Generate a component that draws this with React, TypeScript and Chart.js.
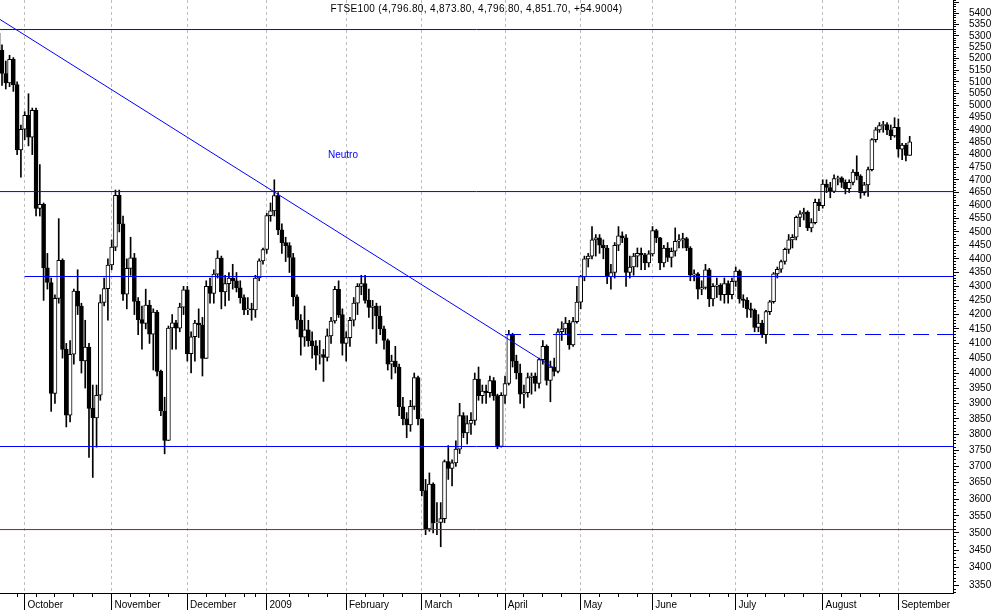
import React, { useEffect, useRef } from 'react';
import { Chart, registerables } from 'chart.js';

Chart.register(...registerables);

const TITLE = 'FTSE100 (4,796.80, 4,873.80, 4,796.80, 4,851.70, +54.9004)';
const NOTE = 'Neutro';

// Daily candles, 22 Sep 2008 .. 4 Sep 2009 (index = trading day)
const opens = [
  5311, 5236, 5136, 5095.6, 5197, 5088.5, 4818.8,
  4902.5, 4959.6, 4870.3, 4980.3, 4589.2, 4605.2, 4366.7, 4313.8, 3932.1, 4256.9, 4394.2, 4079.6, 3861.4, 4063, 4282.7, 4229.7, 4040.9, 4087.8, 3883.4, 3852.6, 3926.4, 4242.5, 4291.7,
  4377.3, 4443.3, 4639.5, 4530.7, 4272.4, 4364.9, 4403.9, 4246.7, 4182, 4169.2, 4233, 4132.2, 4208.5, 4005.7, 3875, 3781, 4153, 4171.3, 4152.7, 4226.1,
  4288, 4065.5, 4122.8, 4170, 4163.6, 4049.4, 4300.1, 4274.7, 4344, 4403, 4280.5, 4310, 4330, 4320, 4295, 4260, 4216.6, 4220, 4216, 4330, 4392.7,
  4434.2, 4561.8, 4579.6, 4638.9, 4507.5, 4460, 4448.5, 4405, 4263, 4180.6, 4121.8, 4147, 4108.5, 4091.4, 4059.9, 4062, 4052.5, 4126, 4177.6, 4289.5, 4200,
  4100, 4120, 4180, 4240, 4300, 4310, 4250, 4225, 4230, 4195, 4150, 4110, 4030, 4040, 4020, 3889, 3850, 3830, 3890, 3985,
  3850, 3625.8, 3512.1, 3645.9, 3529.9, 3530.7, 3542.4, 3715.2, 3693.8, 3711.1, 3753.7, 3860, 3805, 3835, 3845, 3980, 3925, 3940, 3935, 3975, 3925, 3762,
  3926, 3965, 4130, 4040, 4000, 3930, 3935, 3985, 3990, 3965, 4045, 4090, 3975, 4020, 4005, 4140, 4150, 4170, 4095, 4175,
  4243.7, 4335, 4400, 4410, 4470, 4478, 4450, 4440, 4335, 4350, 4450, 4485, 4478, 4350, 4370, 4410, 4420, 4415, 4385,
  4418, 4505, 4478, 4385, 4440, 4405, 4428, 4465, 4470, 4475, 4440, 4340, 4345, 4290, 4296, 4360, 4255, 4300, 4305, 4270, 4310, 4270,
  4318, 4355, 4255, 4250, 4220, 4215, 4155, 4170, 4130, 4210, 4245, 4345, 4362, 4390, 4435, 4470, 4480, 4555, 4568, 4575, 4515, 4535, 4612,
  4600, 4683, 4670, 4655, 4705, 4708, 4690, 4665, 4690, 4730, 4715, 4650, 4680, 4740, 4860, 4900, 4918, 4922, 4900, 4875,
  4910, 4822, 4838, 4796.8,
];
const highs = [
  5330, 5260, 5190, 5215, 5205, 5100, 4920,
  4975, 5050, 4990, 4990, 4760, 4610, 4420, 4330, 4270, 4550, 4400, 4100, 4110, 4290, 4360, 4240, 4180, 4100, 3960, 3960, 4270, 4330, 4400,
  4470, 4660, 4660, 4560, 4400, 4480, 4420, 4260, 4230, 4290, 4250, 4220, 4215, 4010, 3920, 4160, 4200, 4180, 4240, 4300,
  4300, 4140, 4180, 4220, 4190, 4320, 4330, 4360, 4430, 4410, 4340, 4350, 4380, 4350, 4320, 4270, 4260, 4240, 4340, 4400, 4440,
  4570, 4610, 4700, 4650, 4530, 4480, 4460, 4420, 4270, 4200, 4230, 4180, 4140, 4110, 4110, 4080, 4150, 4190, 4300, 4320, 4220,
  4140, 4190, 4260, 4310, 4340, 4340, 4290, 4250, 4240, 4230, 4160, 4115, 4060, 4090, 4030, 3920, 3870, 3910, 4000, 3990,
  3850, 3660, 3680, 3650, 3590, 3590, 3720, 3765, 3720, 3780, 3900, 3870, 3860, 3870, 4000, 4020, 3960, 3960, 3990, 3985, 3930, 3935,
  3990, 4145, 4135, 4060, 4030, 3960, 4000, 4000, 4000, 4050, 4110, 4095, 4040, 4050, 4150, 4175, 4190, 4180, 4190, 4300,
  4340, 4410, 4420, 4520, 4490, 4490, 4470, 4450, 4380, 4460, 4520, 4500, 4490, 4410, 4420, 4440, 4440, 4420, 4430,
  4520, 4510, 4480, 4450, 4460, 4440, 4515, 4490, 4495, 4480, 4445, 4360, 4350, 4320, 4380, 4365, 4310, 4330, 4310, 4330, 4320, 4330,
  4370, 4360, 4270, 4260, 4240, 4220, 4200, 4180, 4215, 4250, 4350, 4370, 4395, 4440, 4490, 4490, 4560, 4580, 4590, 4580, 4550, 4625, 4625,
  4700, 4700, 4690, 4720, 4715, 4712, 4700, 4700, 4740, 4795, 4720, 4690, 4750, 4865, 4910, 4930, 4935, 4930, 4920, 4950,
  4945, 4845, 4845, 4873.8,
];
const lows = [
  5225, 5085, 5070, 5080, 5060, 4800, 4710,
  4860, 4835, 4800, 4560, 4560, 4250, 4290, 3874, 3900, 4240, 4050, 3824, 3840, 4030, 4200, 4000, 3950, 3728, 3666, 3760, 3910, 4230, 4180,
  4360, 4430, 4500, 4250, 4220, 4340, 4200, 4130, 4080, 4150, 4100, 4010, 3990, 3860, 3739, 3781, 4080, 4080, 4140, 4200,
  4040, 4000, 4040, 4120, 3990, 4049, 4240, 4240, 4330, 4220, 4230, 4250, 4290, 4280, 4240, 4200, 4200, 4180, 4190, 4320, 4380,
  4420, 4540, 4560, 4490, 4420, 4390, 4350, 4230, 4150, 4060, 4090, 4090, 4050, 4010, 4030, 3972, 4040, 4100, 4170, 4190, 4060,
  4040, 4090, 4160, 4200, 4270, 4240, 4190, 4150, 4100, 4130, 4080, 4010, 3980, 4000, 3860, 3830, 3790, 3810, 3880, 3830,
  3610, 3495, 3505, 3500, 3495, 3460, 3530, 3660, 3640, 3700, 3740, 3790, 3770, 3800, 3830, 3910, 3900, 3900, 3920, 3910, 3755, 3760,
  3900, 3960, 4020, 3980, 3900, 3885, 3920, 3930, 3940, 3950, 4030, 3960, 3905, 3990, 4000, 4110, 4130, 4080, 4090, 4170,
  4220, 4320, 4370, 4400, 4410, 4420, 4400, 4310, 4290, 4330, 4430, 4460, 4300, 4330, 4340, 4370, 4360, 4360, 4370,
  4410, 4460, 4360, 4370, 4390, 4370, 4410, 4440, 4440, 4430, 4320, 4320, 4255, 4270, 4290, 4228, 4230, 4260, 4250, 4240, 4240, 4255,
  4300, 4240, 4225, 4190, 4190, 4140, 4140, 4120, 4100, 4200, 4240, 4330, 4350, 4380, 4420, 4440, 4470, 4520, 4545, 4505, 4500, 4530, 4580,
  4590, 4650, 4630, 4650, 4680, 4670, 4645, 4650, 4680, 4700, 4628, 4640, 4635, 4735, 4850, 4890, 4890, 4880, 4860, 4870,
  4790, 4780, 4775, 4796.8,
];
const closes = [
  5236, 5136, 5095.6, 5197, 5088.5, 4818.8, 4902.5,
  4959.6, 4870.3, 4980.3, 4589.2, 4605.2, 4366.7, 4313.8, 3932.1, 4256.9, 4394.2, 4079.6, 3861.4, 4063, 4282.7, 4229.7, 4040.9, 4087.8, 3883.4, 3852.6, 3926.4, 4242.5, 4291.7, 4377.3,
  4443.3, 4639.5, 4530.7, 4272.4, 4364.9, 4403.9, 4246.7, 4182, 4169.2, 4233, 4132.2, 4208.5, 4005.7, 3875, 3781, 4153, 4171.3, 4152.7, 4226.1, 4288,
  4065.5, 4122.8, 4170, 4163.6, 4049.4, 4300.1, 4274.7, 4344, 4403, 4280.5, 4310, 4330, 4320, 4295, 4260, 4216.6, 4220, 4216, 4330, 4392.7, 4434.2,
  4561.8, 4579.6, 4638.9, 4507.5, 4460, 4448.5, 4405, 4263, 4180.6, 4121.8, 4147, 4108.5, 4091.4, 4059.9, 4062, 4052.5, 4126, 4177.6, 4289.5, 4200, 4100,
  4120, 4180, 4240, 4300, 4310, 4250, 4225, 4230, 4195, 4150, 4110, 4030, 4040, 4020, 3889, 3850, 3830, 3890, 3985, 3850,
  3625.8, 3512.1, 3645.9, 3529.9, 3530.7, 3542.4, 3715.2, 3693.8, 3711.1, 3753.7, 3860, 3805, 3835, 3845, 3980, 3925, 3940, 3935, 3975, 3925, 3762, 3926,
  3965, 4130, 4040, 4000, 3930, 3935, 3985, 3990, 3965, 4045, 4090, 3975, 4020, 4005, 4140, 4150, 4170, 4095, 4175, 4243.7,
  4335, 4400, 4410, 4470, 4478, 4450, 4440, 4335, 4350, 4450, 4485, 4478, 4350, 4370, 4410, 4420, 4415, 4385, 4418,
  4505, 4478, 4385, 4440, 4405, 4428, 4465, 4470, 4475, 4440, 4340, 4345, 4290, 4296, 4360, 4255, 4300, 4305, 4270, 4310, 4270, 4318,
  4355, 4255, 4250, 4220, 4215, 4155, 4170, 4130, 4210, 4245, 4345, 4362, 4390, 4435, 4470, 4480, 4555, 4568, 4575, 4515, 4535, 4612, 4600,
  4683, 4670, 4655, 4705, 4708, 4690, 4665, 4690, 4730, 4715, 4650, 4680, 4740, 4860, 4900, 4918, 4922, 4900, 4875, 4910,
  4822, 4838, 4796.8, 4851.7,
];

// x axis: trading-day index positions of month starts and of the weekly ticks
const monthIdx = [7, 30, 50, 71, 92, 112, 134, 154, 173, 195, 218, 238];
const monthLabels = ['October', 'November', 'December', '2009', 'February', 'March', 'April', 'May', 'June', 'July', 'August', 'September'];
const weekIdx = [5, 10, 15, 20, 25, 35, 40, 45, 55, 60, 65, 68, 77, 82, 87, 97, 102, 107, 117, 122, 127, 132, 139, 144, 149, 159, 164, 169, 178, 183, 188, 193, 198, 203, 208, 213, 223, 228, 233];

// drawn levels (value, start index) and the falling trend line
const levelValues = [5328, 4654, 4335.5, 4130.6, 3762, 3510];
const levelStart = [0.47, 0.47, 7, 134, 0.47, 0.47];
const levelColors = ['#0000ff', '#0000ff', '#0000ff', '#0000ff', '#0000ff', '#dd0000'];
const levelDashed = [false, false, false, true, false, false];
const trendX = [0.47, 146.7];
const trendY = [5373, 4019];

const X_MIN = 0.47;
const X_MAX = 252.45;
const Y_MIN = 3329;
const Y_MAX = 5461;
const FONT = '"Liberation Sans", Arial, Helvetica, sans-serif';

const yTickValues: number[] = [];
for (let v = 3330; v <= 5460; v += 10) yTickValues.push(v);

const xTickValues = [...monthIdx, ...weekIdx].sort((a, b) => a - b);

const extrasPlugin = {
  id: 'extras',
  afterDraw(chart: any) {
    const { ctx, chartArea, scales } = chart;
    const xs = scales.x;
    const ys = scales.y;
    const al = (p: number) => Math.round(p - 0.5) + 0.5;
    ctx.save();
    ctx.strokeStyle = '#000';
    ctx.lineWidth = 1;
    ctx.beginPath();
    monthIdx.forEach((i) => {
      const px = al(xs.getPixelForValue(i));
      ctx.moveTo(px, chartArea.bottom);
      ctx.lineTo(px, chart.height);
    });
    yTickValues.filter((v) => v % 50 === 0).forEach((v) => {
      const py = al(ys.getPixelForValue(v));
      ctx.moveTo(chartArea.right, py);
      ctx.lineTo(chartArea.right + 6, py);
    });
    ctx.stroke();

    ctx.font = '10px ' + FONT;
    ctx.fillStyle = '#000';
    ctx.textAlign = 'center';
    ctx.textBaseline = 'middle';
    (ctx as any).letterSpacing = '0.35px';
    ctx.fillText(TITLE, (chartArea.left + chartArea.right) / 2, 9);
    (ctx as any).letterSpacing = '0px';
    ctx.fillStyle = '#0000ff';
    ctx.textAlign = 'left';
    ctx.fillText(NOTE, 328, 155);
    ctx.restore();
  },
};

export default function App() {
  const ref = useRef<HTMLCanvasElement | null>(null);

  useEffect(() => {
    if (!ref.current) return;
    const bodyColors = closes.map((c, i) => (c >= opens[i] ? '#ffffff' : '#000000'));

    const lineSets: any[] = levelValues.map((v, k) => ({
      type: 'line',
      data: [
        { x: levelStart[k], y: v },
        { x: X_MAX, y: v },
      ],
      borderColor: levelColors[k],
      borderWidth: 1,
      borderDash: levelDashed[k] ? [16, 8] : [],
      pointRadius: 0,
      fill: false,
      tension: 0,
      order: 0,
    }));
    lineSets.push({
      type: 'line',
      data: trendX.map((x, k) => ({ x, y: trendY[k] })),
      borderColor: '#0000ff',
      borderWidth: 1,
      pointRadius: 0,
      fill: false,
      tension: 0,
      order: 0,
    });

    const chart = new Chart(ref.current, {
      type: 'bar',
      data: {
        datasets: [
          ...lineSets,
          {
            type: 'bar',
            data: opens.map((o, i) => ({ x: i, y: [o, closes[i]] })),
            backgroundColor: bodyColors,
            borderColor: '#000000',
            borderWidth: 1,
            borderSkipped: false,
            barThickness: 4,
            grouped: false,
            order: 1,
          },
          {
            type: 'bar',
            data: lows.map((l, i) => ({ x: i, y: [l, highs[i]] })),
            backgroundColor: '#000000',
            borderWidth: 0,
            barThickness: 1,
            grouped: false,
            order: 2,
          },
        ],
      },
      options: {
        responsive: false,
        maintainAspectRatio: false,
        animation: false,
        events: [],
        layout: { padding: 0 },
        plugins: {
          legend: { display: false },
          tooltip: { enabled: false },
          title: { display: false },
        },
        scales: {
          x: {
            type: 'linear',
            position: 'bottom',
            min: X_MIN,
            max: X_MAX,
            offset: false,
            afterBuildTicks: (scale: any) => {
              scale.ticks = xTickValues.map((v) => ({ value: v }));
            },
            afterFit: (scale: any) => {
              scale.height = 17;
              scale.paddingLeft = 0;
              scale.paddingRight = 0;
            },
            ticks: {
              autoSkip: false,
              maxRotation: 0,
              minRotation: 0,
              align: 'start',
              padding: 2,
              color: '#000',
              font: { family: FONT, size: 10 },
              callback: (value: any) => {
                const k = monthIdx.indexOf(Number(value));
                return k >= 0 ? ' ' + monthLabels[k] : '';
              },
            },
            grid: {
              offset: false,
              drawOnChartArea: true,
              color: (c: any) => (c.tick && monthIdx.includes(c.tick.value) ? '#bdbdbd' : 'rgba(0,0,0,0)'),
              tickColor: '#000',
              tickLength: 4,
              lineWidth: 1,
            },
            border: { display: true, color: '#000', width: 1, dash: [3, 3] },
          } as any,
          y: {
            type: 'logarithmic',
            position: 'right',
            min: Y_MIN,
            max: Y_MAX,
            afterBuildTicks: (scale: any) => {
              scale.ticks = yTickValues.map((v) => ({ value: v }));
            },
            afterFit: (scale: any) => {
              scale.width = 41;
              scale.paddingTop = 0;
              scale.paddingBottom = 0;
            },
            ticks: {
              autoSkip: false,
              padding: 13,
              color: '#000',
              font: { family: FONT, size: 10 },
              callback: (value: any) => {
                const v = Number(value);
                return v % 50 === 0 && v <= 5400 ? String(v) : '';
              },
            },
            grid: {
              drawOnChartArea: false,
              drawTicks: true,
              tickLength: 3,
              tickColor: '#000',
            },
            border: { display: true, color: '#000', width: 1 },
          } as any,
        },
      } as any,
      plugins: [extrasPlugin],
    });
    return () => chart.destroy();
  }, []);

  return (
    <div style={{ position: 'absolute', left: 0, top: 0, width: 994, height: 610, background: '#fff' }}>
      <canvas ref={ref} width={994} height={610} style={{ display: 'block' }} />
    </div>
  );
}
